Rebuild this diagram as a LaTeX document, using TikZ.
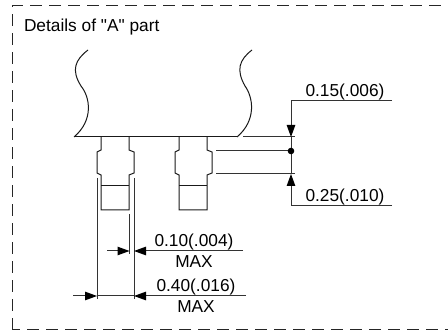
\documentclass[tikz,border=0pt]{standalone}
\usepackage{fontspec}
\setmainfont[Ligatures=TeXOff]{Liberation Sans}
\usepackage{tikz}
\usetikzlibrary{arrows.meta,calc}
\tikzset{
  outline/.style={line width=1pt,black!90},
  dimline/.style={line width=1pt,black!80},
  dimtip/.style={dimline,-{Triangle[length=12pt,width=8.5pt,color=black]}},
  label/.style={font=\fontsize{17.3}{20}\selectfont,anchor=base,inner sep=0pt,outer sep=0pt}
}
\begin{document}
\begin{tikzpicture}[x=1pt,y=-1pt]
  \useasboundingbox (0,0) rectangle (448,334);
  % frame
  \draw[line width=1pt,black!85,dash pattern=on 12pt off 7pt] (12,330) -- (12,6) -- (448,6);
  \draw[line width=1pt,black!85,dash pattern=on 12pt off 7pt,dash phase=4pt] (12,330) -- (448,330);
  \node[label,anchor=base west] (title) at (24,32) {Details of "A" part};
  % body
  \draw[outline] (74,137) -- (237,137);
  \draw[outline] (74,137) .. controls (94,120) and (90,97) .. (81,86)
    .. controls (71,70) and (75,60) .. (88,50);
  \draw[outline] (237,137) .. controls (257,120) and (253,97) .. (245,86)
    .. controls (236,70) and (239,60) .. (252,50);
  % leads
  \foreach \lead in {101,179} {
    \draw[outline] (\lead,137) -- (\lead,150) -- (\lead-4,152) -- (\lead-4,173) -- (\lead,175)
      -- (\lead,210) -- (\lead+28,210) -- (\lead+28,175) -- (\lead+33,173) -- (\lead+33,152)
      -- (\lead+28,150) -- (\lead+28,137);
    \draw[outline] (\lead,186) -- (\lead+28,186);
  }
  % right dimension
  \coordinate (top) at (392,101);
  \coordinate (corner1) at (291,101);
  \coordinate (tip1) at (291,137);
  \coordinate (tip2) at (291,174);
  \coordinate (corner2) at (291,206);
  \coordinate (bottom) at (392,206);
  \coordinate (dot) at (291,151);
  \draw[dimline] (243,137) -- (295,137);
  \draw[dimline] (216,151) -- (dot);
  \draw[dimline] (216,174) -- (295,174);
  \draw[dimline] (tip1) -- (tip2);
  \draw[dimtip] (top) -- (corner1) -- (tip1);
  \draw[dimtip] (bottom) -- (corner2) -- (tip2);
  \fill (dot) circle (3.3pt);
  \node[label] (upper) at (345,97) {0.15(.006)};
  \node[label] (lower) at (345,202) {0.25(.010)};
  % lower dimensions
  \draw[dimline] (97,178) -- (97,299);
  \draw[dimline] (134,178) -- (134,299);
  \draw[dimline] (129.5,214) -- (129.5,254);
  \coordinate (a1) at (107,251);
  \coordinate (a2) at (129.5,251);
  \coordinate (a3) at (243,251);
  \coordinate (a4) at (134,251);
  \coordinate (b1) at (73,296);
  \coordinate (b2) at (97,296);
  \coordinate (b3) at (246,296);
  \coordinate (b4) at (134,296);
  \draw[dimtip] (a1) -- (a2);
  \draw[dimtip] (a3) -- (a4);
  \draw[dimtip] (b1) -- (b2);
  \draw[dimtip] (b3) -- (b4);
  \draw[dimline] (b2) -- (b4);
  \node[label] (gap) at (194,247) {0.10(.004)};
  \node[label] (gapmax) at (194,268) {MAX};
  \node[label] (width) at (196,292) {0.40(.016)};
  \node[label] (widthmax) at (196,313) {MAX};
\end{tikzpicture}
\end{document}
